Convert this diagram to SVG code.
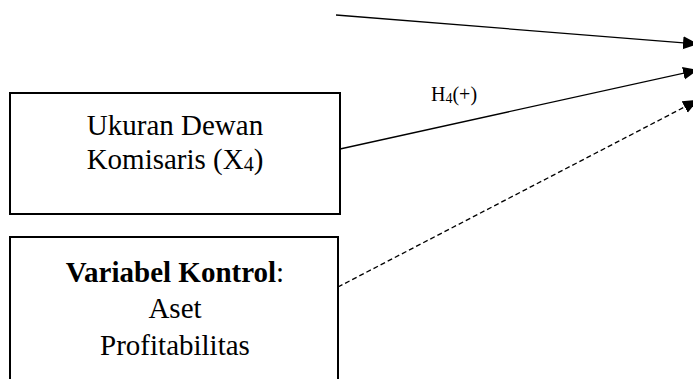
<svg xmlns="http://www.w3.org/2000/svg" width="693" height="379" viewBox="0 0 693 379">
<style>
.box{fill:#fff;stroke:#000;stroke-width:2}
.t{font-family:"Liberation Serif","Times New Roman",serif;font-size:29px;fill:#000;text-anchor:middle}
.lbl{font-family:"Liberation Serif","Times New Roman",serif;font-size:20px;fill:#000}
.c{fill:none;stroke:#000;stroke-width:1.3}
.d{stroke-dasharray:5,3}
</style>
<defs>
<marker id="ah" markerUnits="userSpaceOnUse" markerWidth="16" markerHeight="16" viewBox="0 0 16 16" refX="15" refY="8" orient="auto">
<path d="M0,1.5 L15,8 L0,14.5 Z" fill="#000"/>
</marker>
</defs>
<g id="connectors">
<line class="c" x1="336" y1="15" x2="698" y2="44" marker-end="url(#ah)"/>
<line class="c" x1="340" y1="149" x2="698" y2="70" marker-end="url(#ah)"/>
<line class="c d" x1="338" y1="287" x2="698" y2="100" marker-end="url(#ah)"/>
<text class="lbl" x="431" y="101">H<tspan font-size="14" dy="2">4</tspan><tspan dy="-2">(+)</tspan></text>
</g>
<g id="node-x4">
<rect class="box" x="10" y="93" width="330" height="121"/>
<text class="t" x="175" y="135">Ukuran Dewan</text>
<text class="t" x="175" y="169">Komisaris (X<tspan font-size="20" dy="2">4</tspan><tspan dy="-2">)</tspan></text>
</g>
<g id="node-kontrol">
<rect class="box" x="10" y="237" width="328" height="160"/>
<text class="t" x="175" y="282"><tspan font-weight="bold">Variabel Kontrol</tspan>:</text>
<text class="t" x="175" y="318">Aset</text>
<text class="t" x="175" y="355">Profitabilitas</text>
</g>
</svg>
